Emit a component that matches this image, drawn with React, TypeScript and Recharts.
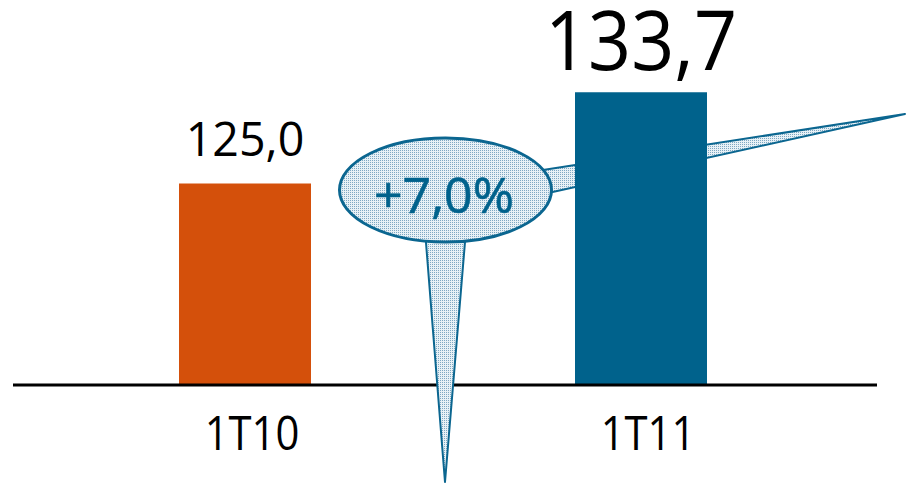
import React from 'react';
import { BarChart, Bar, XAxis, YAxis, Cell, LabelList } from 'recharts';

const quarters = ['1T10', '1T11'];
const values = [125.0, 133.7];
const growthLabel = '+7,0%';

const barColors = ['#D4500B', '#00628C'];
const labelSizes = [48, 82];
const labelGaps = [28, 22];
const labelSqueeze = [0.97, 0.92];
const calloutBlue = '#0B6690';
const FONT = '"Open Sans", "Noto Sans", sans-serif';

const data = quarters.map((q, i) => ({ quarter: q, value: values[i] }));

const fmt = (v: number) => v.toFixed(1).replace('.', ',');

function QuarterTick(props: any) {
  const { x, y, payload } = props;
  return (
    <text
      transform={`translate(${x + 7},${y + 65}) scale(0.87,1)`}
      textAnchor="middle"
      fontFamily={FONT}
      fontSize={48}
      fill="#000"
    >
      {payload.value}
    </text>
  );
}

function ValueLabel(props: any) {
  const { x, y, width, value, index } = props;
  return (
    <text
      transform={`translate(${x + width / 2},${y - labelGaps[index]}) scale(${labelSqueeze[index]},1)`}
      textAnchor="middle"
      fontFamily={FONT}
      fontSize={labelSizes[index]}
      fill="#000"
    >
      {fmt(value)}
    </text>
  );
}

function DotPattern() {
  return (
    <defs>
      <pattern id="dots" width="2" height="2" patternUnits="userSpaceOnUse">
        <rect width="2" height="2" fill="#e8f1f6" />
        <rect width="1" height="1" fill="#7fa8c3" />
      </pattern>
    </defs>
  );
}

export default function App() {
  const layer: React.CSSProperties = { position: 'absolute', left: 0, top: 0 };
  return (
    <div style={{ position: 'absolute', left: 0, top: 0, width: 907, height: 483, background: '#fff' }}>
      {/* pointer behind the bars */}
      <svg width={907} height={483} style={layer}>
        <DotPattern />
        <polygon
          points="530,172 905,114 530,197"
          fill="url(#dots)"
          stroke={calloutBlue}
          strokeWidth={2}
          strokeLinejoin="round"
        />
      </svg>
      <div style={layer}>
        <BarChart width={907} height={483} data={data} margin={{ top: 0, right: 30, bottom: 0, left: 13 }}>
          <YAxis hide domain={[105.8, 142.5]} />
          <XAxis
            dataKey="quarter"
            height={98}
            padding={{ left: 34, right: 38 }}
            axisLine={{ stroke: '#000', strokeWidth: 3 }}
            tickLine={false}
            tickSize={0}
            tickMargin={0}
            tick={<QuarterTick />}
            interval={0}
          />
          <Bar dataKey="value" barSize={132} isAnimationActive={false}>
            {data.map((d, i) => (
              <Cell key={d.quarter} fill={barColors[i]} />
            ))}
            <LabelList dataKey="value" content={<ValueLabel />} />
          </Bar>
        </BarChart>
      </div>
      {/* callout on top */}
      <svg width={907} height={483} style={layer}>
        <DotPattern />
        <polygon
          points="425,230 466,230 445,482"
          fill="url(#dots)"
          stroke={calloutBlue}
          strokeWidth={2}
          strokeLinejoin="round"
        />
        <ellipse cx={445.5} cy={190} rx={106} ry={52} fill="url(#dots)" stroke={calloutBlue} strokeWidth={3} />
        <text x={444} y={213} textAnchor="middle" fontFamily={FONT} fontSize={50} fill="#00628C" stroke="#00628C" strokeWidth={0.6}>
          {growthLabel}
        </text>
      </svg>
    </div>
  );
}
